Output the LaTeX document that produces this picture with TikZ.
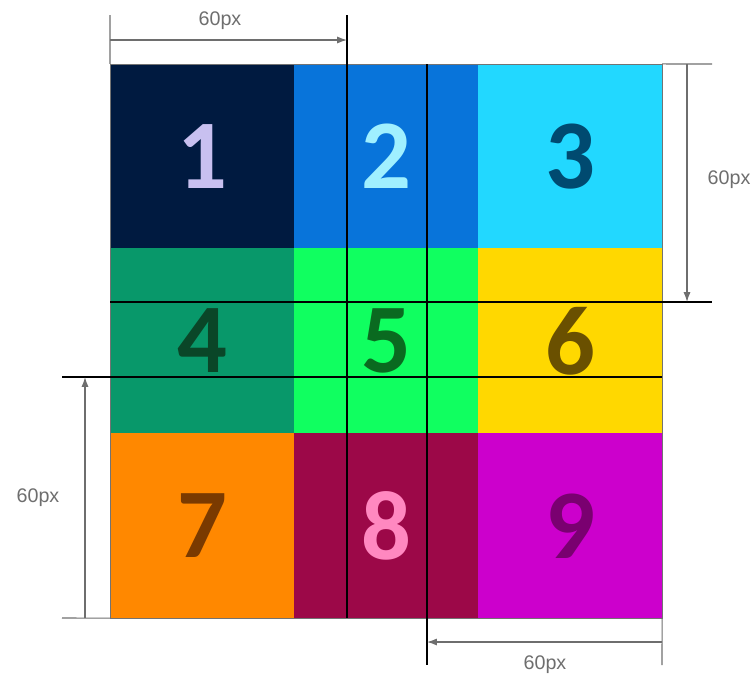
\documentclass[tikz,border=0pt]{standalone}
\usepackage{fontspec}
\setmainfont{Liberation Sans}
\newfontfamily\digitfont{Carlito}
\usetikzlibrary{arrows.meta, positioning}

\definecolor{navy1}{RGB}{0, 26, 64}
\definecolor{blue1}{RGB}{8, 116, 218}
\definecolor{cyan1}{RGB}{34, 216, 255}
\definecolor{teal1}{RGB}{8, 152, 106}
\definecolor{green1}{RGB}{16, 255, 96}
\definecolor{yellow1}{RGB}{255, 216, 0}
\definecolor{orange1}{RGB}{255, 136, 0}
\definecolor{crimson1}{RGB}{156, 8, 72}
\definecolor{magenta1}{RGB}{204, 0, 204}
\definecolor{dimgray1}{RGB}{110, 110, 110}

\tikzset{
  cell/.style={fill=#1, draw=#1, line width=0.6pt, outer sep=0pt,
    minimum width=4.6cm, minimum height=4.6175cm, inner sep=0pt,
    font=\digitfont\bfseries\fontsize{70}{70}\selectfont},
  guide/.style={black, line width=0.9pt},
  dimline/.style={dimgray1, line width=0.8pt},
  dimarrow/.style={dimline, -{Latex[length=7pt, width=5pt]}},
  dimlabel/.style={text=dimgray1, font=\fontsize{14}{14}\selectfont, inner sep=0pt}
}

\begin{document}
\begin{tikzpicture}[x=0.025cm, y=-0.025cm]
  \useasboundingbox (0,0) rectangle (756,679);

  % the nine cells
  \node[cell=navy1, text={rgb,255:red,200;green,192;blue,240}] (c1) at (202,156.3) {1};
  \node[cell=blue1, text={rgb,255:red,160;green,240;blue,255}, right=0pt of c1] (c2) {2};
  \node[cell=cyan1, text={rgb,255:red,0;green,74;blue,112}, right=0pt of c2] (c3) {3};
  \node[cell=teal1, text={rgb,255:red,10;green,70;blue,40}, below=0pt of c1] (c4) {4};
  \node[cell=green1, text={rgb,255:red,10;green,106;blue,32}, right=0pt of c4] (c5) {5};
  \node[cell=yellow1, text={rgb,255:red,106;green,80;blue,0}, right=0pt of c5] (c6) {6};
  \node[cell=orange1, text={rgb,255:red,122;green,58;blue,0}, below=0pt of c4] (c7) {7};
  \node[cell=crimson1, text={rgb,255:red,255;green,136;blue,192}, right=0pt of c7] (c8) {8};
  \node[cell=magenta1, text={rgb,255:red,122;green,0;blue,112}, right=0pt of c8] (c9) {9};
  \draw[black!55, line width=0.5pt] (c1.north west) rectangle (c9.south east);

  % guide lines
  \coordinate (vA1) at (347,15);   \coordinate (vA2) at (347,618);
  \coordinate (vB1) at (427,64);   \coordinate (vB2) at (427,665);
  \coordinate (hA1) at (110,302);  \coordinate (hA2) at (712,302);
  \coordinate (hB1) at (62,377);   \coordinate (hB2) at (662,377);
  \draw[guide] (vA1) -- (vA2);
  \draw[guide] (vB1) -- (vB2);
  \draw[guide] (hA1) -- (hA2);
  \draw[guide] (hB1) -- (hB2);

  % top dimension
  \coordinate (tT) at (110,15);
  \draw[dimline] (tT) -- (c1.north west);
  \draw[dimarrow] (110,40) -- (347,40);
  \node[dimlabel] (lT) at (220,21) {60px};

  % right dimension
  \coordinate (rT) at (712,64);
  \draw[dimline] (c3.north east) -- (rT);
  \draw[dimarrow] (687,64) -- (687,302);
  \node[dimlabel] (lR) at (729,180) {60px};

  % left dimension
  \coordinate (lB) at (62,618);
  \draw[dimline] (lB) -- (c7.south west);
  \draw[dimarrow] (85,618) -- (85,377);
  \node[dimlabel] (lL) at (38,498) {60px};

  % bottom dimension
  \coordinate (bR) at (662,665);
  \draw[dimline] (c9.south east) -- (bR);
  \draw[dimarrow] (662,642) -- (427,642);
  \node[dimlabel] (lB2) at (545,665) {60px};
\end{tikzpicture}
\end{document}
